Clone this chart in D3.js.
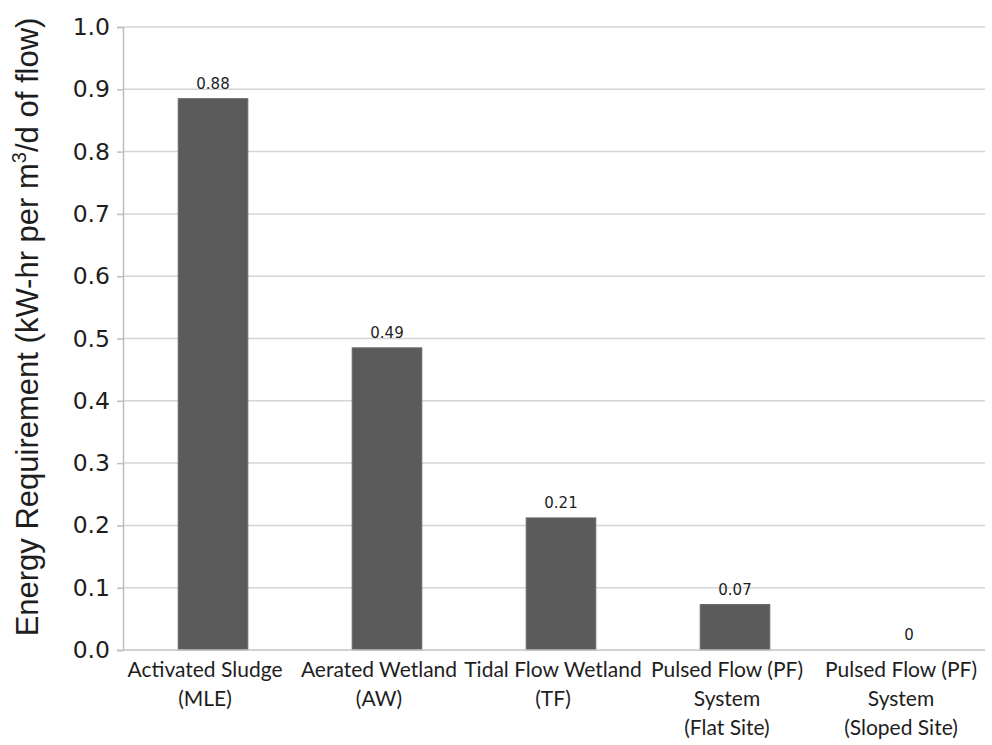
<!DOCTYPE html>
<html><head><meta charset="utf-8">
<script src="https://cdn.jsdelivr.net/npm/d3@7/dist/d3.min.js"></script>
<style>body{margin:0;background:#fff}</style>
</head><body>
<svg id="c" width="992" height="745"></svg>
<script>
const categories = [
  ["Activated Sludge","(MLE)"],
  ["Aerated Wetland","(AW)"],
  ["Tidal Flow Wetland","(TF)"],
  ["Pulsed Flow (PF)","System","(Flat Site)"],
  ["Pulsed Flow (PF)","System","(Sloped Site)"]
];
const values = [0.885, 0.485, 0.212, 0.073, 0];
const valueLabels = ["0.88","0.49","0.21","0.07","0"];
const yTicks = [0,0.1,0.2,0.3,0.4,0.5,0.6,0.7,0.8,0.9,1.0];

const svg = d3.select("#c");
const mLeft = 123, mRight = 985, mTop = 27, mBottom = 650;
const x = d3.scaleBand().domain(d3.range(categories.length)).range([mLeft+3,mLeft+3+870]).paddingInner(0.6).paddingOuter(0.3);
const y = d3.scaleLinear().domain([0,1]).range([mBottom,mTop]);

// gridlines
svg.append("g").selectAll("line").data(yTicks.slice(1)).join("line")
  .attr("x1",mLeft).attr("x2",mRight).attr("y1",d=>y(d)).attr("y2",d=>y(d))
  .attr("stroke","#d4d4d4").attr("stroke-width",1.5);

// bars
svg.append("g").selectAll("rect").data(values).join("rect")
  .attr("x",(d,i)=>x(i)).attr("width",x.bandwidth())
  .attr("y",d=>y(d)).attr("height",d=>mBottom-y(d))
  .attr("fill","#5b5b5b").attr("stroke","#6a6a6a").attr("stroke-width",1);

// y axis
const ya = svg.append("g").attr("transform",`translate(${mLeft},0)`)
  .call(d3.axisLeft(y).tickValues(yTicks).tickFormat(d3.format(".1f")).tickSize(6).tickPadding(7));
ya.select(".domain").attr("stroke","#bdbdbd").attr("stroke-width",1.5);
ya.selectAll(".tick line").attr("stroke","#bdbdbd").attr("stroke-width",1.5);
ya.selectAll(".tick text").attr("font-family","DejaVu Sans, Verdana, sans-serif").attr("font-size",23.5).attr("fill","#1e1e1e");

// x axis line
svg.append("line").attr("x1",mLeft).attr("x2",mRight).attr("y1",mBottom).attr("y2",mBottom)
  .attr("stroke","#c4c4c4").attr("stroke-width",1.5);

// value labels
svg.append("g").selectAll("text").data(values).join("text")
  .attr("x",(d,i)=>x(i)+x.bandwidth()/2).attr("y",d=>y(d)-10)
  .attr("text-anchor","middle").attr("font-family","DejaVu Sans, Verdana, sans-serif")
  .attr("font-size",15).attr("fill","#1e1e1e").text((d,i)=>valueLabels[i]);

// category labels
const cl = svg.append("g").selectAll("text").data(categories).join("text")
  .attr("text-anchor","middle").attr("font-family","Lato, Open Sans, sans-serif")
  .attr("font-size",21).attr("fill","#1e1e1e");
cl.each(function(lines,i){
  const t = d3.select(this);
  lines.forEach((s,j)=>{
    t.append("tspan").attr("x",x(i)+x.bandwidth()/2-8).attr("y",677+j*29).text(s);
  });
});

// y title
const yt = svg.append("text").attr("transform","translate(38,327) rotate(-90)")
  .attr("text-anchor","middle").attr("font-family","Liberation Sans, Arial, sans-serif")
  .attr("font-size",31).attr("fill","#1e1e1e");
yt.append("tspan").text("Energy Requirement (kW-hr per m");
yt.append("tspan").attr("font-size",20).attr("dy",-12).text("3");
yt.append("tspan").attr("dy",12).text("/d of flow)");
</script>
</body></html>
